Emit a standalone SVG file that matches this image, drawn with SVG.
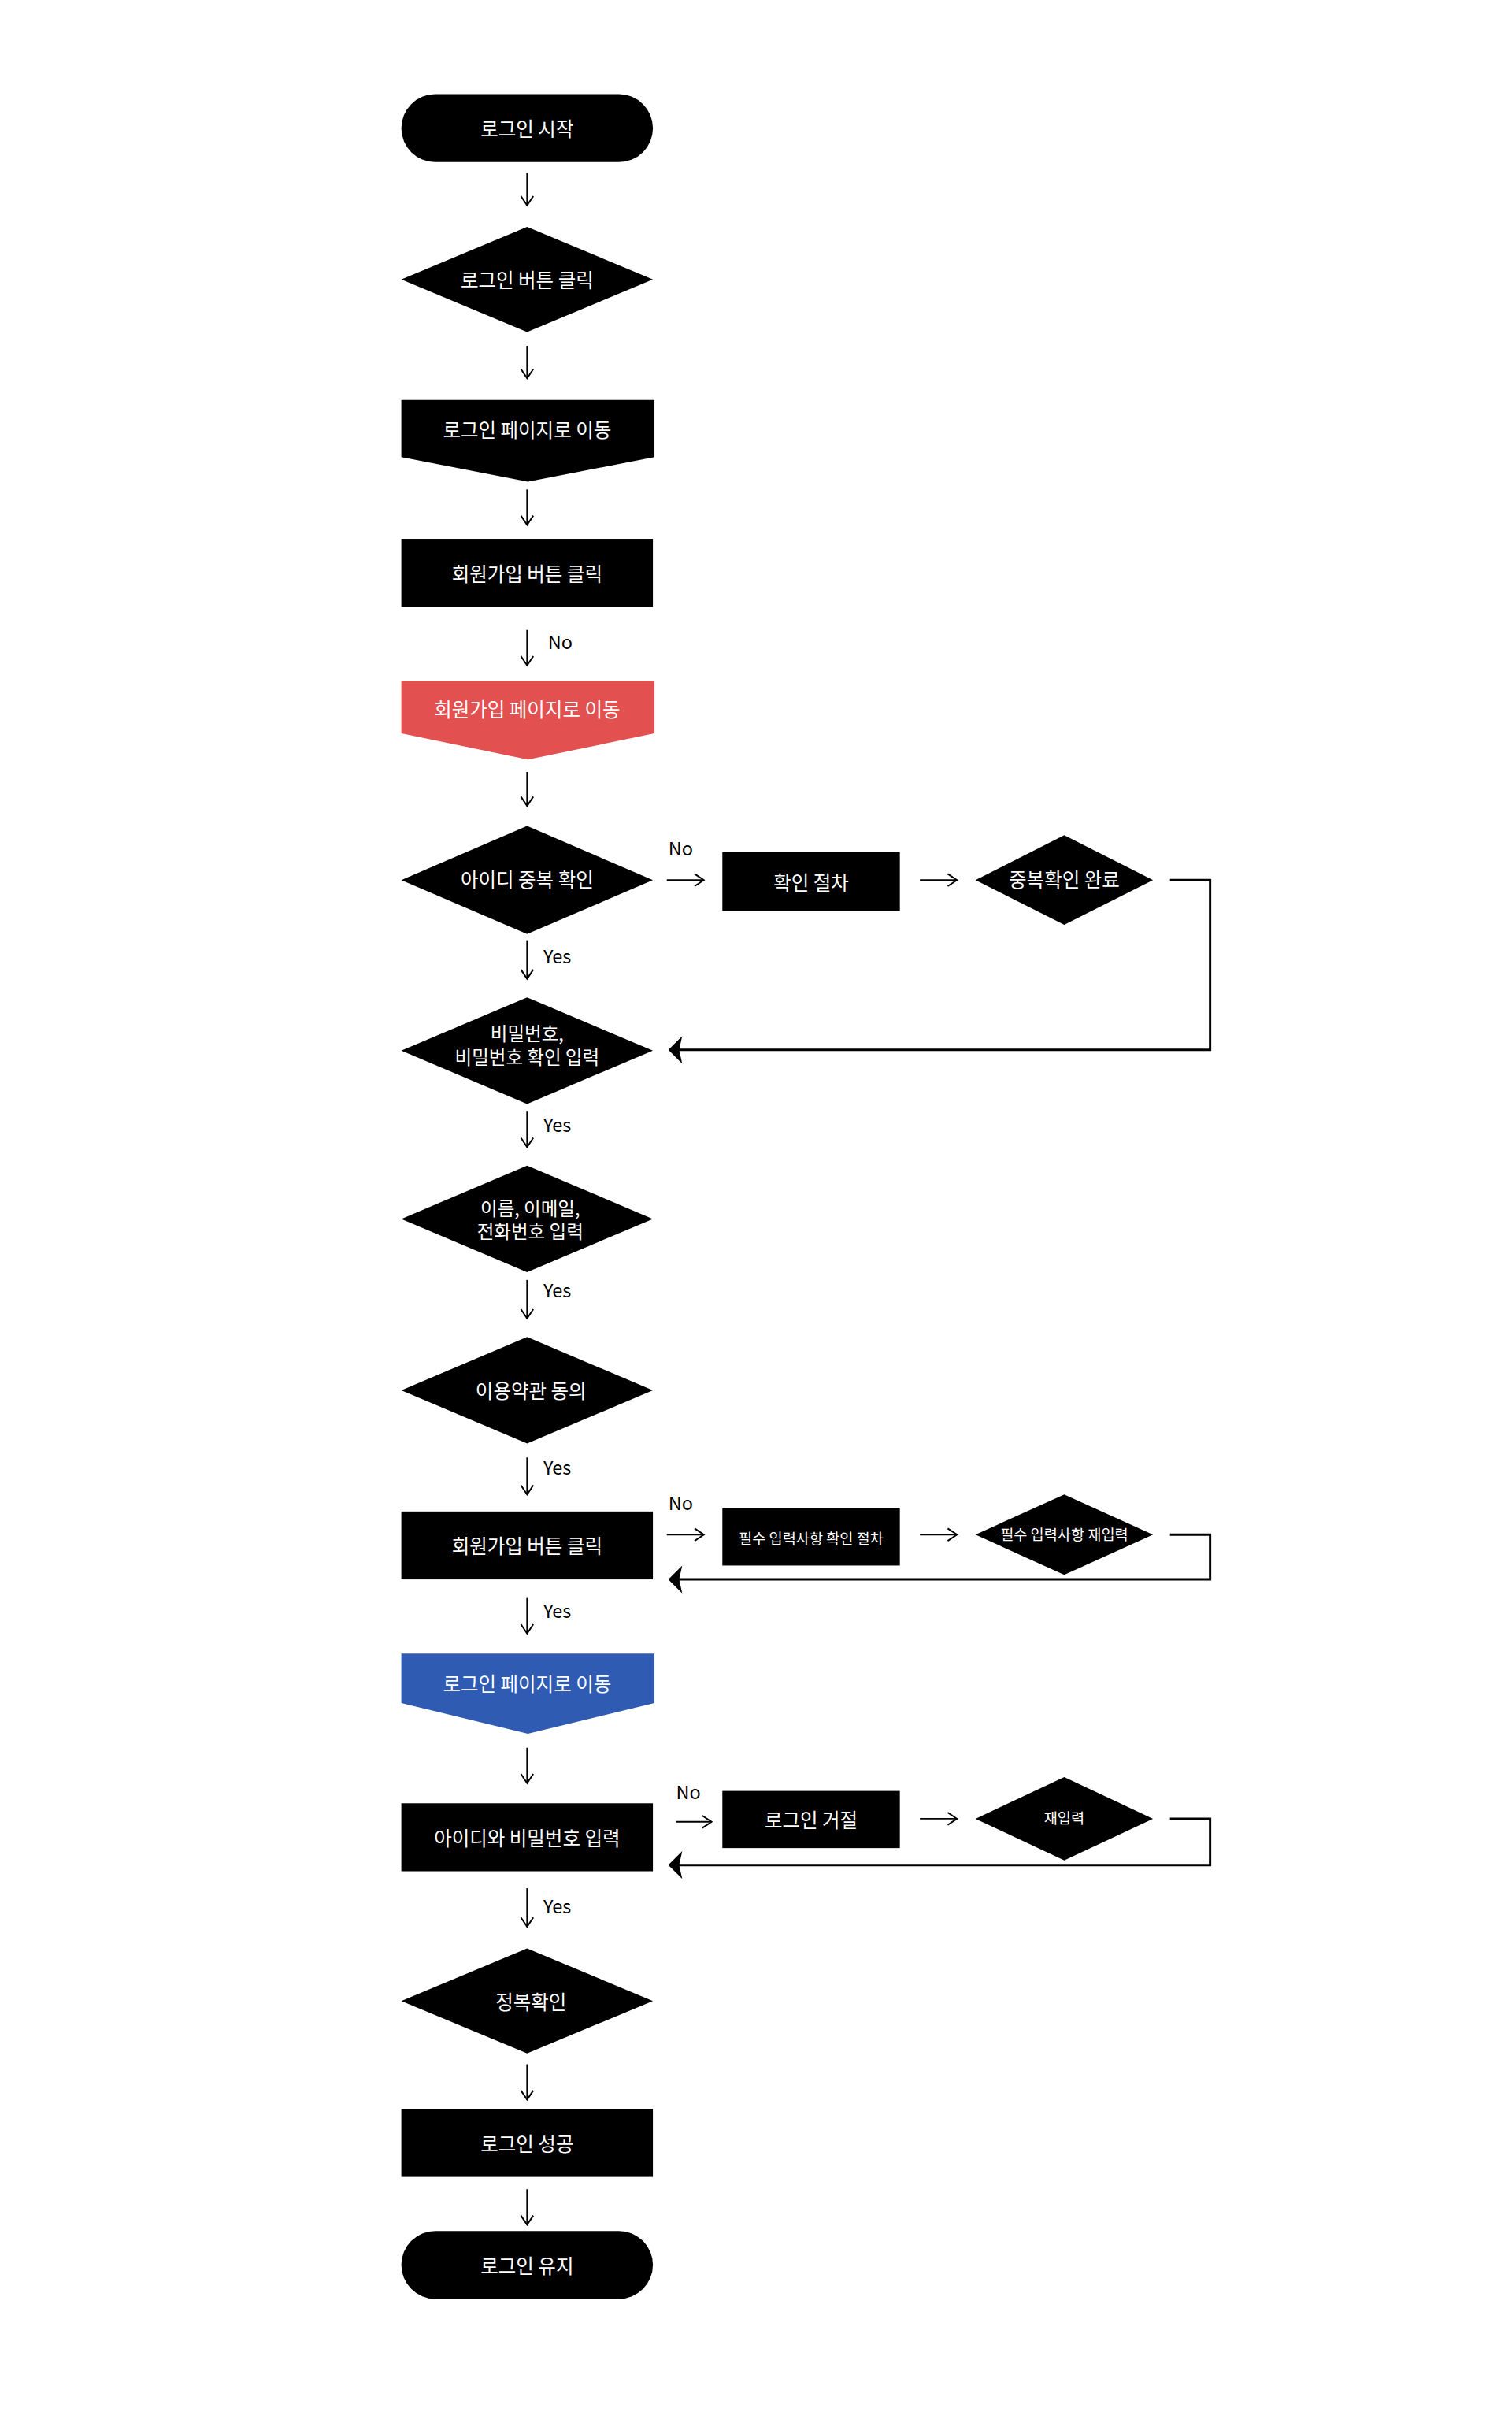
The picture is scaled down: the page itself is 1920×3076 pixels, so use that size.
<svg xmlns="http://www.w3.org/2000/svg" width="1920" height="3076" viewBox="0 0 1920 3076">
<style>
text{font-family:"Noto Sans CJK KR","Noto Sans",sans-serif;font-size:25px;fill:#fff;text-anchor:middle;dominant-baseline:central}
.s{font-size:19px}
.t{font-size:24px}
.lbl{fill:#000;text-anchor:start;font-size:24px}
.c{stroke:#000;stroke-width:2;fill:none}
.b{stroke:#000;stroke-width:3;fill:none}
</style>
<defs>
<marker id="o" viewBox="0 0 20 20" refX="18" refY="10" markerWidth="20" markerHeight="20" markerUnits="userSpaceOnUse" orient="auto"><polyline points="6,2 18,10 6,18" fill="none" stroke="#000" stroke-width="2"/></marker>
<marker id="f" viewBox="0 0 20 40" refX="18" refY="20" markerWidth="20" markerHeight="40" markerUnits="userSpaceOnUse" orient="auto"><polygon points="20,20 2,2 6,20 2,38" fill="#000"/></marker>
</defs>
<rect width="1920" height="3076" fill="#fff"/>
<g transform="scale(0.98)">
<g id="n1"><rect x="520" y="122" width="326" height="88" rx="44" fill="#000"/><text x="683" y="166">로그인 시작</text></g>
<g id="n2"><polygon points="520,362 683,294 846,362 683,430" fill="#000"/><text x="683" y="362">로그인 버튼 클릭</text></g>
<g id="n3"><polygon points="520,518 848,518 848,592 684,624 520,592" fill="#000"/><text x="683" y="556">로그인 페이지로 이동</text></g>
<g id="n4"><rect x="520" y="698" width="326" height="88" fill="#000"/><text x="683" y="742">회원가입 버튼 클릭</text></g>
<g id="n5"><polygon points="520,882 848,882 848,950 684,984 520,950" fill="#e35050"/><text x="683" y="918">회원가입 페이지로 이동</text></g>
<g id="n6"><polygon points="520,1140 683,1070 846,1140 683,1210" fill="#000"/><text x="683" y="1138">아이디 중복 확인</text></g>
<g id="n7"><rect x="936" y="1104" width="230" height="76" fill="#000"/><text x="1051" y="1142">확인 절차</text></g>
<g id="n8"><polygon points="1264,1140 1379,1082 1494,1140 1379,1198" fill="#000"/><text x="1379" y="1138">중복확인 완료</text></g>
<g id="n9"><polygon points="520,1361 683,1292 846,1361 683,1430" fill="#000"/><text class="t" x="683" y="1338">비밀번호,</text><text class="t" x="683" y="1368">비밀번호 확인 입력</text></g>
<g id="n10"><polygon points="520,1579 683,1510 846,1579 683,1648" fill="#000"/><text class="t" x="687" y="1564">이름, 이메일,</text><text class="t" x="687" y="1594">전화번호 입력</text></g>
<g id="n11"><polygon points="520,1801 683,1732 846,1801 683,1870" fill="#000"/><text x="688" y="1801">이용약관 동의</text></g>
<g id="n12"><rect x="520" y="1958" width="326" height="88" fill="#000"/><text x="683" y="2002">회원가입 버튼 클릭</text></g>
<g id="n13"><rect x="936" y="1954" width="230" height="74" fill="#000"/><text class="s" x="1051" y="1991">필수 입력사항 확인 절차</text></g>
<g id="n14"><polygon points="1264,1988 1379,1936 1494,1988 1379,2040" fill="#000"/><text class="s" x="1379" y="1986">필수 입력사항 재입력</text></g>
<g id="n15"><polygon points="520,2142 848,2142 848,2206 684,2246 520,2206" fill="#2f5bb3"/><text x="683" y="2180">로그인 페이지로 이동</text></g>
<g id="n16"><rect x="520" y="2336" width="326" height="88" fill="#000"/><text x="683" y="2380">아이디와 비밀번호 입력</text></g>
<g id="n17"><rect x="936" y="2320" width="230" height="74" fill="#000"/><text x="1051" y="2357">로그인 거절</text></g>
<g id="n18"><polygon points="1264,2356 1379,2302 1494,2356 1379,2410" fill="#000"/><text class="s" x="1379" y="2354">재입력</text></g>
<g id="n19"><polygon points="520,2592 683,2524 846,2592 683,2660" fill="#000"/><text x="688" y="2592">정복확인</text></g>
<g id="n20"><rect x="520" y="2732" width="326" height="88" fill="#000"/><text x="683" y="2776">로그인 성공</text></g>
<g id="n21"><rect x="520" y="2890" width="326" height="88" rx="44" fill="#000"/><text x="683" y="2934">로그인 유지</text></g>
<g id="connectors">
<line class="c" x1="683" y1="224" x2="683" y2="266" marker-end="url(#o)"/>
<line class="c" x1="683" y1="448" x2="683" y2="490" marker-end="url(#o)"/>
<line class="c" x1="683" y1="634" x2="683" y2="680" marker-end="url(#o)"/>
<line class="c" x1="683" y1="816" x2="683" y2="862" marker-end="url(#o)"/>
<line class="c" x1="683" y1="1000" x2="683" y2="1044" marker-end="url(#o)"/>
<line class="c" x1="864" y1="1140" x2="912" y2="1140" marker-end="url(#o)"/>
<line class="c" x1="1192" y1="1140" x2="1240" y2="1140" marker-end="url(#o)"/>
<polyline class="b" points="1516,1140 1568,1140 1568,1360 868,1360" marker-end="url(#f)"/>
<line class="c" x1="683" y1="1218" x2="683" y2="1268" marker-end="url(#o)"/>
<line class="c" x1="683" y1="1440" x2="683" y2="1486" marker-end="url(#o)"/>
<line class="c" x1="683" y1="1658" x2="683" y2="1708" marker-end="url(#o)"/>
<line class="c" x1="683" y1="1888" x2="683" y2="1936" marker-end="url(#o)"/>
<line class="c" x1="864" y1="1988" x2="912" y2="1988" marker-end="url(#o)"/>
<line class="c" x1="1192" y1="1988" x2="1240" y2="1988" marker-end="url(#o)"/>
<polyline class="b" points="1516,1988 1568,1988 1568,2046 868,2046" marker-end="url(#f)"/>
<line class="c" x1="683" y1="2070" x2="683" y2="2116" marker-end="url(#o)"/>
<line class="c" x1="683" y1="2264" x2="683" y2="2310" marker-end="url(#o)"/>
<line class="c" x1="876" y1="2360" x2="922" y2="2360" marker-end="url(#o)"/>
<line class="c" x1="1192" y1="2356" x2="1240" y2="2356" marker-end="url(#o)"/>
<polyline class="b" points="1516,2356 1568,2356 1568,2416 868,2416" marker-end="url(#f)"/>
<line class="c" x1="683" y1="2446" x2="683" y2="2496" marker-end="url(#o)"/>
<line class="c" x1="683" y1="2674" x2="683" y2="2720" marker-end="url(#o)"/>
<line class="c" x1="683" y1="2836" x2="683" y2="2882" marker-end="url(#o)"/>
<text class="lbl" x="710" y="831">No</text>
<text class="lbl" x="866" y="1098">No</text>
<text class="lbl" x="704" y="1238">Yes</text>
<text class="lbl" x="704" y="1456">Yes</text>
<text class="lbl" x="704" y="1670">Yes</text>
<text class="lbl" x="704" y="1900">Yes</text>
<text class="lbl" x="866" y="1946">No</text>
<text class="lbl" x="704" y="2086">Yes</text>
<text class="lbl" x="876" y="2320">No</text>
<text class="lbl" x="704" y="2468">Yes</text>
</g>
</g>
</svg>
